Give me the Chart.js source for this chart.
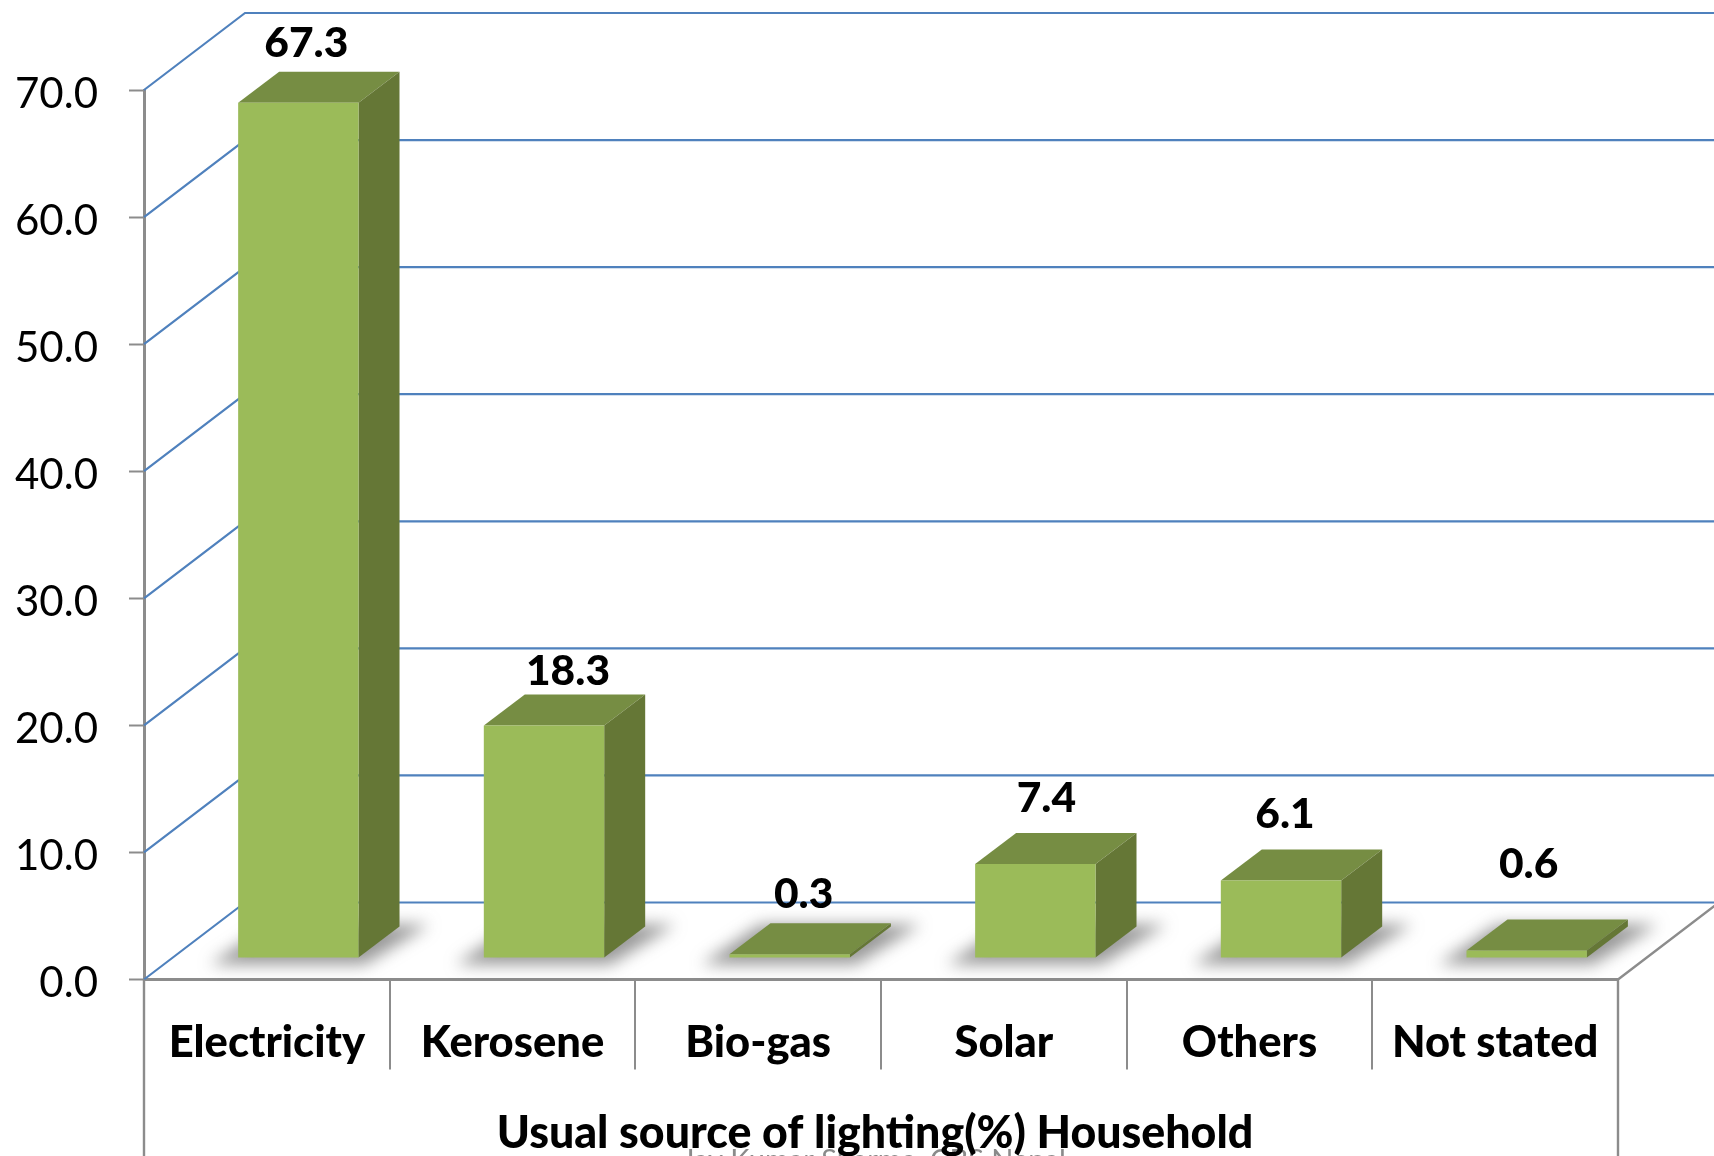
<!DOCTYPE html>
<html>
<head>
<meta charset="utf-8">
<title>Usual source of lighting</title>
<script src="https://cdn.jsdelivr.net/npm/chart.js@4"></script>
<style>
  html, body { margin: 0; padding: 0; background: #fff; overflow: hidden; }
  #wrap { width: 1714px; height: 1156px; position: relative; }
</style>
</head>
<body>
<div id="wrap"><canvas id="chart"></canvas></div>
<script>
// Fake-3D column chart: walls, floor and bar depth are drawn by a plugin from the scales.

var categories = ['Electricity', 'Kerosene', 'Bio-gas', 'Solar', 'Others', 'Not stated'];
var lightingShare = [67.3, 18.3, 0.3, 7.4, 6.1, 0.6];
var axisTitle = 'Usual source of lighting(%) Household';
var watermark = 'Jay Kumar Sharma, CBS Nepal';

var FONT = 'Lato, Carlito, sans-serif';
var GRAY = '#8c8c8c';
var BLUE = '#4f81bd';

// perspective offsets, in px
var WALL_DX = 101, WALL_DY = 77;     // front plane to back wall
var BAR_DX = 31.5, BAR_LIFT = 21.5;  // front plane to front face of the bars
var DEPTH_DX = 41, DEPTH_DY = 31;    // bar depth

// value labels do not sit at a fixed distance from the bars in the picture
var labelNudge = [[8, -60], [24, -54], [14, -60], [11, -66], [4, -66], [2, -86]];

var wallsPlugin = {
  id: 'walls',
  beforeDraw: function (chart) {
    // y tick labels sit a little low in the reference
    chart.scales.y.getLabelItems().forEach(function (item) {
      if (item.nudged) return;
      item.options.translation[1] += 4;
      item.nudged = true;
    });
  },
  beforeDatasetsDraw: function (chart) {
    var ctx = chart.ctx, y = chart.scales.y, area = chart.chartArea;
    ctx.save();

    // side wall diagonals and back wall lines
    ctx.strokeStyle = BLUE;
    ctx.lineWidth = 2.2;
    y.ticks.forEach(function (t) {
      var py = y.getPixelForValue(t.value);
      ctx.beginPath();
      ctx.moveTo(area.left, py);
      ctx.lineTo(area.left + WALL_DX, py - WALL_DY);
      ctx.lineTo(chart.width, py - WALL_DY);
      ctx.stroke();
    });

    // right floor edge and the lines running off the bottom
    ctx.strokeStyle = GRAY;
    ctx.lineWidth = 2.4;
    ctx.beginPath();
    ctx.moveTo(area.right, area.bottom);
    ctx.lineTo(area.right + WALL_DX, area.bottom - WALL_DY);
    ctx.moveTo(area.left, area.bottom);
    ctx.lineTo(area.left, chart.height);
    ctx.moveTo(area.right, area.bottom);
    ctx.lineTo(area.right, chart.height);
    ctx.stroke();

    // soft shadows on the floor
    ctx.filter = 'blur(8px)';
    ctx.fillStyle = 'rgba(90,90,90,0.62)';
    chart.getDatasetMeta(0).data.forEach(function (bar) {
      var l = bar.x - bar.width / 2 + BAR_DX, r = bar.x + bar.width / 2 + BAR_DX;
      var b = bar.base - BAR_LIFT;
      ctx.beginPath();
      ctx.moveTo(l - 28, b + 7);
      ctx.lineTo(r + 6, b + 7);
      ctx.lineTo(r + DEPTH_DX + 30, b - DEPTH_DY - 2);
      ctx.lineTo(l + DEPTH_DX - 10, b - DEPTH_DY - 2);
      ctx.closePath();
      ctx.fill();
    });
    ctx.filter = 'none';
    ctx.restore();

    // watermark runs off the bottom of the picture, axis title sits over it
    ctx.save();
    ctx.textAlign = 'center';
    ctx.textBaseline = 'alphabetic';
    ctx.font = '29px ' + FONT;
    ctx.fillStyle = '#8a8a8a';
    ctx.fillText(watermark, 874, 1170);
    ctx.font = '900 44.7px ' + FONT;
    ctx.fillStyle = '#000';
    ctx.fillText(axisTitle, 875, 1148);
    ctx.restore();
  },
  beforeDatasetDraw: function (chart, args) {
    var ctx = chart.ctx;
    ctx.save();
    ctx.translate(BAR_DX, -BAR_LIFT);
    args.meta.data.forEach(function (bar) {
      var l = bar.x - bar.width / 2, r = bar.x + bar.width / 2;
      // top face
      ctx.fillStyle = '#768d43';
      ctx.beginPath();
      ctx.moveTo(l, bar.y);
      ctx.lineTo(l + DEPTH_DX, bar.y - DEPTH_DY);
      ctx.lineTo(r + DEPTH_DX, bar.y - DEPTH_DY);
      ctx.lineTo(r, bar.y);
      ctx.closePath();
      ctx.fill();
      // side face
      ctx.fillStyle = '#657736';
      ctx.beginPath();
      ctx.moveTo(r, bar.y);
      ctx.lineTo(r + DEPTH_DX, bar.y - DEPTH_DY);
      ctx.lineTo(r + DEPTH_DX, bar.base - DEPTH_DY);
      ctx.lineTo(r, bar.base);
      ctx.closePath();
      ctx.fill();
    });
  },
  afterDatasetDraw: function (chart) {
    chart.ctx.restore();
  },
  afterDatasetsDraw: function (chart) {
    var ctx = chart.ctx;
    ctx.save();
    ctx.font = '900 42.5px ' + FONT;
    ctx.fillStyle = '#000';
    ctx.textAlign = 'center';
    ctx.textBaseline = 'middle';
    chart.getDatasetMeta(0).data.forEach(function (bar, i) {
      ctx.fillText(lightingShare[i].toFixed(1),
        bar.x + BAR_DX + labelNudge[i][0],
        bar.y - BAR_LIFT + labelNudge[i][1]);
    });
    ctx.restore();
  }
};

new Chart(document.getElementById('chart'), {
  type: 'bar',
  data: {
    labels: categories,
    datasets: [{
      data: lightingShare,
      backgroundColor: '#9bbb59',
      borderWidth: 0,
      barPercentage: 0.49,
      categoryPercentage: 1,
      clip: false
    }]
  },
  options: {
    responsive: true,
    maintainAspectRatio: false,
    animation: false,
    layout: { padding: { top: 90, right: 96, left: 0, bottom: 0 } },
    plugins: { legend: { display: false }, tooltip: { enabled: false } },
    scales: {
      x: {
        afterFit: function (s) { s.height = 176.5; },
        border: { color: GRAY, width: 3 },
        grid: { drawOnChartArea: false, color: GRAY, lineWidth: 2, tickLength: 90, tickWidth: 2 },
        ticks: {
          autoSkip: false, maxRotation: 0, padding: -53, color: '#000',
          font: { family: FONT, size: 43.5, weight: '900' }
        }
      },
      y: {
        min: 0, max: 70,
        afterFit: function (s) { s.width = 144; },
        border: { color: GRAY, width: 3 },
        grid: { drawOnChartArea: false, color: GRAY, tickLength: 15, tickWidth: 2 },
        ticks: {
          stepSize: 10, padding: 31, color: '#000',
          font: { family: FONT, size: 42 },
          callback: function (v) { return v.toFixed(1); }
        }
      }
    }
  },
  plugins: [wallsPlugin]
});
</script>
</body>
</html>
